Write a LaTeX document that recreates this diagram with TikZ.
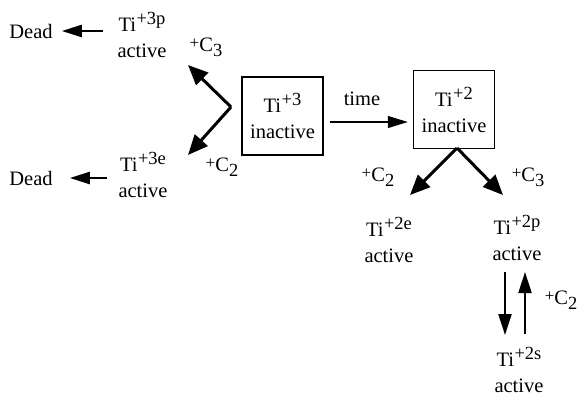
\documentclass[tikz,border=0pt]{standalone}
\usepackage{fontspec}
\setmainfont{Liberation Serif}
\usetikzlibrary{arrows.meta}
\newcommand{\tisp}[1]{Ti\kern0.5pt\raisebox{7pt}{\fontsize{18.5}{18.5}\selectfont #1}}
\newcommand{\plusc}[1]{\raisebox{2.5pt}{\fontsize{17}{17}\selectfont +}C\raisebox{-5pt}{\fontsize{18.5}{18.5}\selectfont #1}}
\begin{document}
\begin{tikzpicture}[x=1pt,y=-1pt,
  every node/.style={font=\fontsize{20.5}{26}\selectfont, inner sep=0pt},
  spec/.style={align=center},
  stbox/.style={draw, line width=1.4pt, minimum width=81pt, minimum height=78pt, align=center},
  thickarr/.style={line width=3pt, -{Triangle[length=20pt,width=17pt]}},
  deadarr/.style={line width=2.4pt, -{Triangle[length=20pt,width=12pt]}},
  timearr/.style={line width=1.3pt, -{Triangle[length=20pt,width=12pt]}},
  vertarr/.style={line width=2.2pt, -{Triangle[length=21pt,width=13pt]}}]
\useasboundingbox (0,0) rectangle (581,400);
% nodes
\node (dead1) at (31,31) {Dead};
\node (dead2) at (31,178) {Dead};
\node[spec] (t3p) at (142,35) {\tisp{+3p}\\active};
\node[spec] (t3e) at (143,175) {\tisp{+3e}\\active};
\node[stbox] (box3) at (282.5,116) {\tisp{+3}\\inactive};
\node[stbox] (box2) at (454,109.5) {\tisp{+2}\\inactive};
\node[spec] (t2e) at (389,240) {\tisp{+2e}\\active};
\node[spec] (t2p) at (517,238) {\tisp{+2p}\\active};
\node[spec] (t2s) at (519,370) {\tisp{+2s}\\active};
% labels
\node (lc3a) at (206,47) {\plusc{3}};
\node (lc2a) at (222,167) {\plusc{2}};
\node (ltime) at (362,99) {time};
\node (lc2b) at (378,177) {\plusc{2}};
\node (lc3b) at (528,177) {\plusc{3}};
\node (lc2c) at (561,300) {\plusc{2}};
% connector coordinates
\coordinate (v3) at (231,107);
\coordinate (a3p) at (188,65);
\coordinate (a3e) at (188,155);
\coordinate (v2) at (457,148);
\coordinate (a2e) at (410,195);
\coordinate (a2p) at (503,195);
\coordinate (dtop) at (505,272);
\coordinate (dbot) at (505,335);
\coordinate (utop) at (525,272);
\coordinate (ubot) at (525,334);
\path (box3.east) ++(6,6) coordinate (ts);
\path (box2.west) ++(-5,0) coordinate (te0);
% connectors
\draw[deadarr] ([xshift=50pt]dead1.east) -- ([xshift=9pt]dead1.east);
\draw[deadarr] ([xshift=54pt]dead2.east) -- ([xshift=17pt]dead2.east);
\draw[thickarr] (v3) -- (a3p);
\draw[thickarr] (v3) -- (a3e);
\draw[timearr] (ts) -- (ts -| te0);
\draw[thickarr] (v2) -- (a2e);
\draw[thickarr] (v2) -- (a2p);
\draw[vertarr] (dtop) -- (dbot);
\draw[vertarr] (ubot) -- (utop);
\end{tikzpicture}
\end{document}
